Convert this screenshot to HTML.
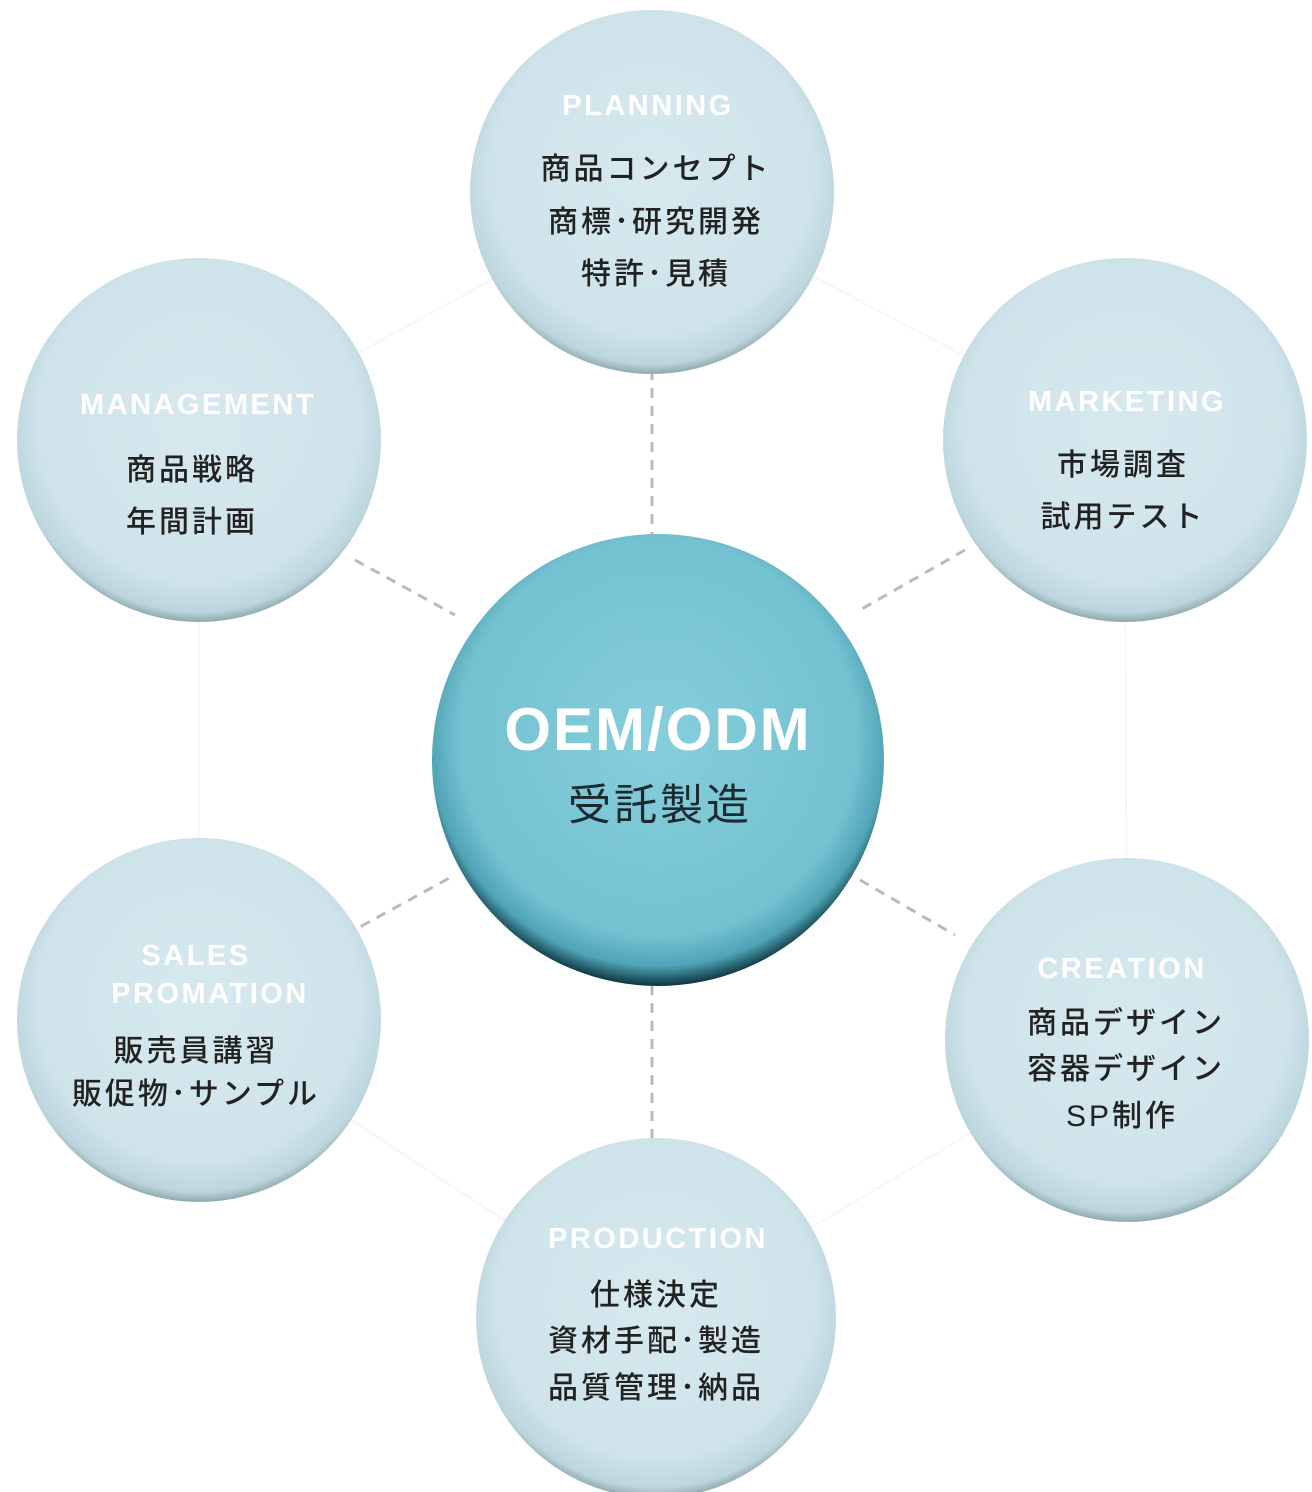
<!DOCTYPE html>
<html><head><meta charset="utf-8"><style>
html,body{margin:0;padding:0;background:#fff;}
svg{display:block}
.h{font-family:"Liberation Sans","Noto Sans CJK JP",sans-serif;font-weight:bold;fill:#fff;font-size:29px;letter-spacing:2.5px;text-anchor:middle}
.b{font-family:"Liberation Sans","Noto Sans CJK JP",sans-serif;fill:#222;font-size:30px;letter-spacing:3px;text-anchor:middle;font-weight:500}
</style></head><body>
<svg width="1312" height="1492" viewBox="0 0 1312 1492" xmlns="http://www.w3.org/2000/svg">
<defs>
<radialGradient id="g1" cx="50%" cy="45%" r="55%">
<stop offset="0" stop-color="#d6e9ef"/><stop offset="0.8" stop-color="#cfe3ea"/><stop offset="0.95" stop-color="#bcd5dd"/><stop offset="1" stop-color="#8fa9b1"/>
</radialGradient>
<radialGradient id="g2" cx="50%" cy="45%" r="55%">
<stop offset="0" stop-color="#86cedb"/><stop offset="0.8" stop-color="#74c1d1"/><stop offset="0.92" stop-color="#4fa4b6"/><stop offset="1" stop-color="#0e3440"/>
</radialGradient>
</defs>
<g stroke="#f4f6f7" stroke-width="2" fill="none">
<polygon points="652,192 1125,440 1127,1040 656,1320 199,1020 199,440"/>
</g>
<g stroke="#bbb" stroke-width="3" stroke-dasharray="10,8">
<line x1="652" y1="370" x2="652" y2="540"/>
<line x1="652" y1="985" x2="652" y2="1140"/>
<line x1="355" y1="560" x2="455" y2="615"/>
<line x1="965" y1="550" x2="860" y2="610"/>
<line x1="345" y1="935" x2="455" y2="875"/>
<line x1="860" y1="880" x2="955" y2="935"/>
</g>
<circle cx="652" cy="192" r="182" fill="url(#g1)"/>
<circle cx="199" cy="440" r="182" fill="url(#g1)"/>
<circle cx="1125" cy="440" r="182" fill="url(#g1)"/>
<circle cx="199" cy="1020" r="182" fill="url(#g1)"/>
<circle cx="1127" cy="1040" r="182" fill="url(#g1)"/>
<circle cx="656" cy="1318" r="180" fill="url(#g1)"/>
<circle cx="658" cy="760" r="226" fill="url(#g2)"/>

<text class="h" x="648" y="115">PLANNING</text>
<text class="b" x="656" y="179">商品コンセプト</text>
<text class="b" x="656" y="232">商標･研究開発</text>
<text class="b" x="656" y="284">特許･見積</text>

<text class="h" x="198" y="414">MANAGEMENT</text>
<text class="b" x="192" y="480">商品戦略</text>
<text class="b" x="192" y="532">年間計画</text>

<text class="h" x="1127" y="411">MARKETING</text>
<text class="b" x="1123" y="475">市場調査</text>
<text class="b" x="1123" y="527">試用テスト</text>

<text class="h" x="196" y="965">SALES</text>
<text class="h" x="210" y="1003">PROMATION</text>
<text class="b" x="196" y="1061">販売員講習</text>
<text class="b" x="196" y="1104">販促物･サンプル</text>

<text class="h" x="1122" y="978">CREATION</text>
<text class="b" x="1126" y="1033">商品デザイン</text>
<text class="b" x="1126" y="1079">容器デザイン</text>
<text class="b" x="1122" y="1126">SP制作</text>

<text class="h" x="658" y="1248">PRODUCTION</text>
<text class="b" x="656" y="1305">仕様決定</text>
<text class="b" x="656" y="1351">資材手配･製造</text>
<text class="b" x="656" y="1398">品質管理･納品</text>

<text x="658" y="750" style="font-family:'Liberation Sans',sans-serif;font-weight:bold;fill:#fff;font-size:60px;letter-spacing:2px;text-anchor:middle">OEM/ODM</text>
<text x="660" y="820" style="font-family:'Liberation Sans','Noto Sans CJK JP',sans-serif;fill:#1b2a2e;font-size:43px;letter-spacing:3px;text-anchor:middle">受託製造</text>
</svg>
</body></html>
